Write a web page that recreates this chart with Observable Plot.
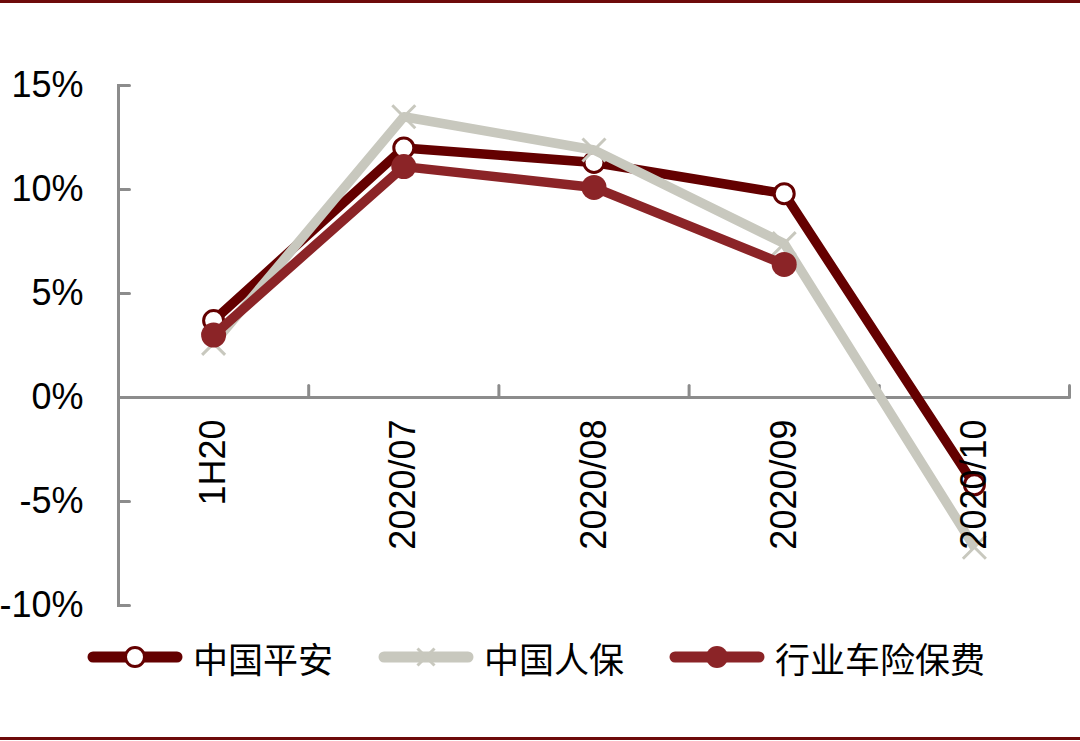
<!DOCTYPE html>
<html>
<head>
<meta charset="utf-8">
<script src="https://cdn.jsdelivr.net/npm/d3@7"></script>
<script src="https://cdn.jsdelivr.net/npm/@observablehq/plot@0.6"></script>
<style>
  html, body { margin: 0; padding: 0; background: #fff; }
  #wrap { position: relative; width: 1080px; height: 741px; overflow: hidden; background: #fff; }
  .border { position: absolute; left: 0; width: 1080px; height: 3px; background: #6e0a0a; }
  #chart { position: absolute; left: 0; top: 0; }
  #legend { position: absolute; left: 87px; top: 632px; height: 50px; display: flex; align-items: center;
            font-family: "Noto Sans CJK SC", sans-serif; font-size: 35px; color: #000; }
  .item { display: flex; align-items: center; margin-right: 45px; }
  .item svg { margin-right: 10px; }
</style>
</head>
<body>
<div id="wrap">
  <div class="border" style="top:0"></div>
  <div id="chart"></div>
  <div id="legend"></div>
  <div class="border" style="top:737px"></div>
</div>
<script>
// ---- data ----
const categories = ["1H20", "2020/07", "2020/08", "2020/09", "2020/10"];
const seriesNames = ["中国平安", "中国人保", "行业车险保费"];
const pingan = [3.7, 12.0, 11.3, 9.8, -4.2];
const renbao = [2.6, 13.5, 11.9, 7.4, -7.2];
const industry = [3.0, 11.1, 10.1, 6.4, null];
const yTicks = [-10, -5, 0, 5, 10, 15];

const colors = ["#640000", "#c8c8be", "#8b2427"];
const axisColor = "#8c8c8c";
const seriesValues = [pingan, renbao, industry];

const rows = [];
seriesNames.forEach((name, s) => {
  seriesValues[s].forEach((v, i) => rows.push({series: name, s, i, value: v}));
});
const boundaries = d3.range(categories.length + 1).map(i => i - 0.5);

const tickUp = {draw(ctx, l) { ctx.moveTo(0, 0); ctx.lineTo(0, -l); }};

const marks = [
  Plot.frame({anchor: "left", stroke: axisColor, strokeWidth: 3}),
  Plot.ruleY([0], {stroke: axisColor, strokeWidth: 3}),
  Plot.vector(boundaries, {x: d => d, y: 0, length: 12, rotate: 0, anchor: "start", shape: tickUp, stroke: axisColor, strokeWidth: 3}),
  Plot.vector(yTicks, {y: d => d, frameAnchor: "left", length: 11, rotate: 90, anchor: "start", shape: tickUp, stroke: axisColor, strokeWidth: 3}),
  Plot.axisY(yTicks, {tickSize: 0, tickPadding: 35, tickFormat: d => d + "%", fontSize: 36, fill: "#000", label: null})
];

seriesNames.forEach((name, s) => {
  const data = rows.filter(d => d.s === s);
  marks.push(Plot.line(data, {x: "i", y: "value", stroke: colors[s], strokeWidth: 9.5, strokeLinejoin: "round", strokeLinecap: "butt"}));
  if (s === 0) {
    marks.push(Plot.dot(data, {x: "i", y: "value", r: 10, fill: "#fff", stroke: colors[s], strokeWidth: 3}));
  } else if (s === 1) {
    marks.push(Plot.dot(data, {x: "i", y: "value", r: 10.5, symbol: "times", stroke: colors[s], strokeWidth: 3}));
  } else {
    marks.push(Plot.dot(data, {x: "i", y: "value", r: 12.5, fill: colors[s], stroke: null}));
  }
});

marks.push(Plot.text(categories, {x: (d, i) => i, y: 0, text: d => d, rotate: -90, textAnchor: "end", dy: 22, fontSize: 36, fill: "#000"}));

const chart = Plot.plot({
  width: 1080,
  height: 630,
  marginLeft: 118,
  marginRight: 11,
  marginTop: 85,
  marginBottom: 25,
  style: {fontFamily: "'Liberation Sans', Arial, sans-serif", background: "transparent", overflow: "visible"},
  x: {type: "linear", domain: [boundaries[0], boundaries[boundaries.length - 1]], axis: null},
  y: {domain: [yTicks[0], yTicks[yTicks.length - 1]], axis: null},
  marks
});
document.getElementById("chart").appendChild(chart);

// ---- legend ----
const legend = document.getElementById("legend");
seriesNames.forEach((name, s) => {
  const item = document.createElement("div");
  item.className = "item";
  let marker;
  if (s === 0) marker = `<circle cx="48" cy="25" r="9.5" fill="#fff" stroke="${colors[s]}" stroke-width="3"/>`;
  else if (s === 1) marker = `<path d="M39.5,16.5L56.5,33.5M56.5,16.5L39.5,33.5" stroke="${colors[s]}" stroke-width="3"/>`;
  else marker = `<circle cx="48" cy="25" r="11" fill="${colors[s]}"/>`;
  item.innerHTML = `<svg width="96" height="50"><line x1="6" y1="25" x2="90" y2="25" stroke="${colors[s]}" stroke-width="11" stroke-linecap="round"/>${marker}</svg><span>${name}</span>`;
  legend.appendChild(item);
});
</script>
</body>
</html>
